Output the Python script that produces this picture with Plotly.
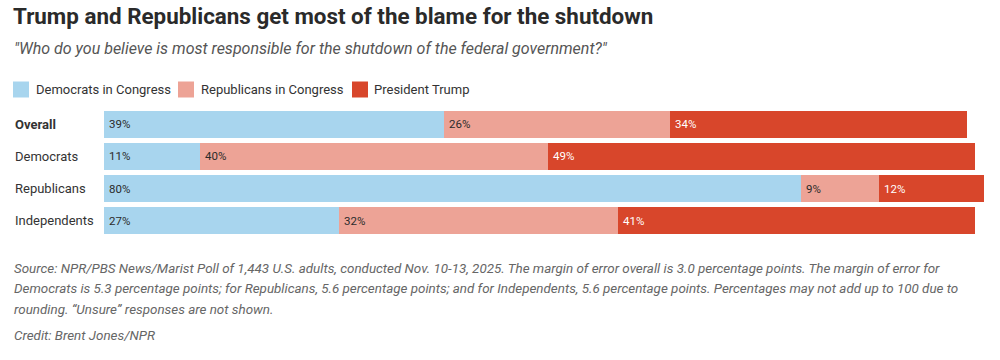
import plotly.graph_objects as go

groups = ["Overall", "Democrats", "Republicans", "Independents"]
series_names = ["Democrats in Congress", "Republicans in Congress", "President Trump"]
dem_congress = [39, 11, 80, 27]
rep_congress = [26, 40, 9, 32]
trump = [34, 49, 12, 41]
series_values = [dem_congress, rep_congress, trump]
colors = ["#a8d5ee", "#eda396", "#d8462b"]
label_colors = ["#2b2b2b", "#2b2b2b", "#ffffff"]

title = "Trump and Republicans get most of the blame for the shutdown"
subtitle = "\"Who do you believe is most responsible for the shutdown of the federal government?\""
footer_lines = [
    "Source: NPR/PBS News/Marist Poll of 1,443 U.S. adults, conducted Nov. 10-13, 2025. The margin of error overall is 3.0 percentage points. The margin of error for",
    "Democrats is 5.3 percentage points; for Republicans, 5.6 percentage points; and for Independents, 5.6 percentage points. Percentages may not add up to 100 due to",
    "rounding. \u201cUnsure\u201d responses are not shown.",
]
credit = "Credit: Brent Jones/NPR"

# layout (pixel positions of the hand-drawn legend keys)
legend_box_x = [13, 178, 352]
legend_text_x = [36, 201, 374]

FONT = "Roboto"
W, H = 1000, 360
ML, MR, MT, MB = 104, 16, 108, 123
PW, PH = W - ML - MR, H - MT - MB


def px_x(px):
    return (px - ML) / PW


def px_y(py):
    return (H - MB - py) / PH


fig = go.Figure()
for name, vals, col in zip(series_names, series_values, colors):
    fig.add_trace(go.Bar(
        y=groups, x=vals, name=name, orientation="h",
        marker=dict(color=col, line=dict(width=0)),
        hoverinfo="skip", showlegend=False,
    ))

annotations = []
shapes = []
bases = [0] * len(groups)
for vals, tc in zip(series_values, label_colors):
    for i, g in enumerate(groups):
        annotations.append(dict(
            x=bases[i], y=g, xref="x", yref="y", text=f"{vals[i]}%",
            showarrow=False, xanchor="left", yanchor="middle", xshift=3,
            font=dict(family=FONT, size=11.5, color=tc),
        ))
        bases[i] += vals[i]

for i, g in enumerate(groups):
    annotations.append(dict(
        x=px_x(15), xref="paper", y=g, yref="y",
        text=f"<b>{g}</b>" if i == 0 else g,
        showarrow=False, xanchor="left", yanchor="middle", xshift=-2,
        font=dict(family=FONT, size=13, color="#333333"),
    ))

# legend keys
for name, col, bx, tx in zip(series_names, colors, legend_box_x, legend_text_x):
    shapes.append(dict(
        type="rect", xref="paper", yref="paper",
        x0=px_x(bx), x1=px_x(bx + 16), y0=px_y(97.5), y1=px_y(81.5),
        fillcolor=col, line=dict(width=0), layer="above",
    ))
    annotations.append(dict(
        x=px_x(tx), y=px_y(89.5), xref="paper", yref="paper", text=name,
        showarrow=False, xanchor="left", yanchor="middle", xshift=-2,
        font=dict(family=FONT, size=13, color="#333333"),
    ))

annotations.append(dict(
    x=px_x(14), y=px_y(48), xref="paper", yref="paper", text=f"<i>{subtitle}</i>",
    showarrow=False, xanchor="left", yanchor="middle", xshift=-2,
    font=dict(family=FONT, size=16, color="#555555"),
))

for k, line in enumerate(footer_lines):
    annotations.append(dict(
        x=px_x(14), y=px_y(268 + 20.5 * k), xref="paper", yref="paper",
        text=f"<i>{line}</i>", showarrow=False, xanchor="left", yanchor="middle", xshift=-2,
        font=dict(family=FONT, size=13.4, color="#666666"),
    ))
annotations.append(dict(
    x=px_x(14), y=px_y(335), xref="paper", yref="paper",
    text=f"<i>{credit}</i>", showarrow=False, xanchor="left", yanchor="middle", xshift=-2,
    font=dict(family=FONT, size=13.4, color="#666666"),
))

fig.update_layout(
    width=W, height=H,
    margin=dict(l=ML, r=MR, t=MT, b=MB, pad=0),
    paper_bgcolor="white", plot_bgcolor="white",
    barmode="stack", bargap=0.156,
    title=dict(text=f"<b>{title}</b>", x=13 / W, xanchor="left", xref="container",
               y=1 - 16 / H, yanchor="middle", yref="container",
               font=dict(family=FONT, size=22.4, color="#2a2a2a")),
    xaxis=dict(range=[0, 101], visible=False, fixedrange=True),
    yaxis=dict(categoryorder="array", categoryarray=groups, autorange="reversed",
               showticklabels=False, showgrid=False, zeroline=False, fixedrange=True),
    annotations=annotations,
    shapes=shapes,
    showlegend=False,
)

fig.write_html(
    "out.html",
    config={"displayModeBar": False, "staticPlot": True},
    post_script="document.body.style.margin='0';document.body.style.overflow='hidden';",
)
